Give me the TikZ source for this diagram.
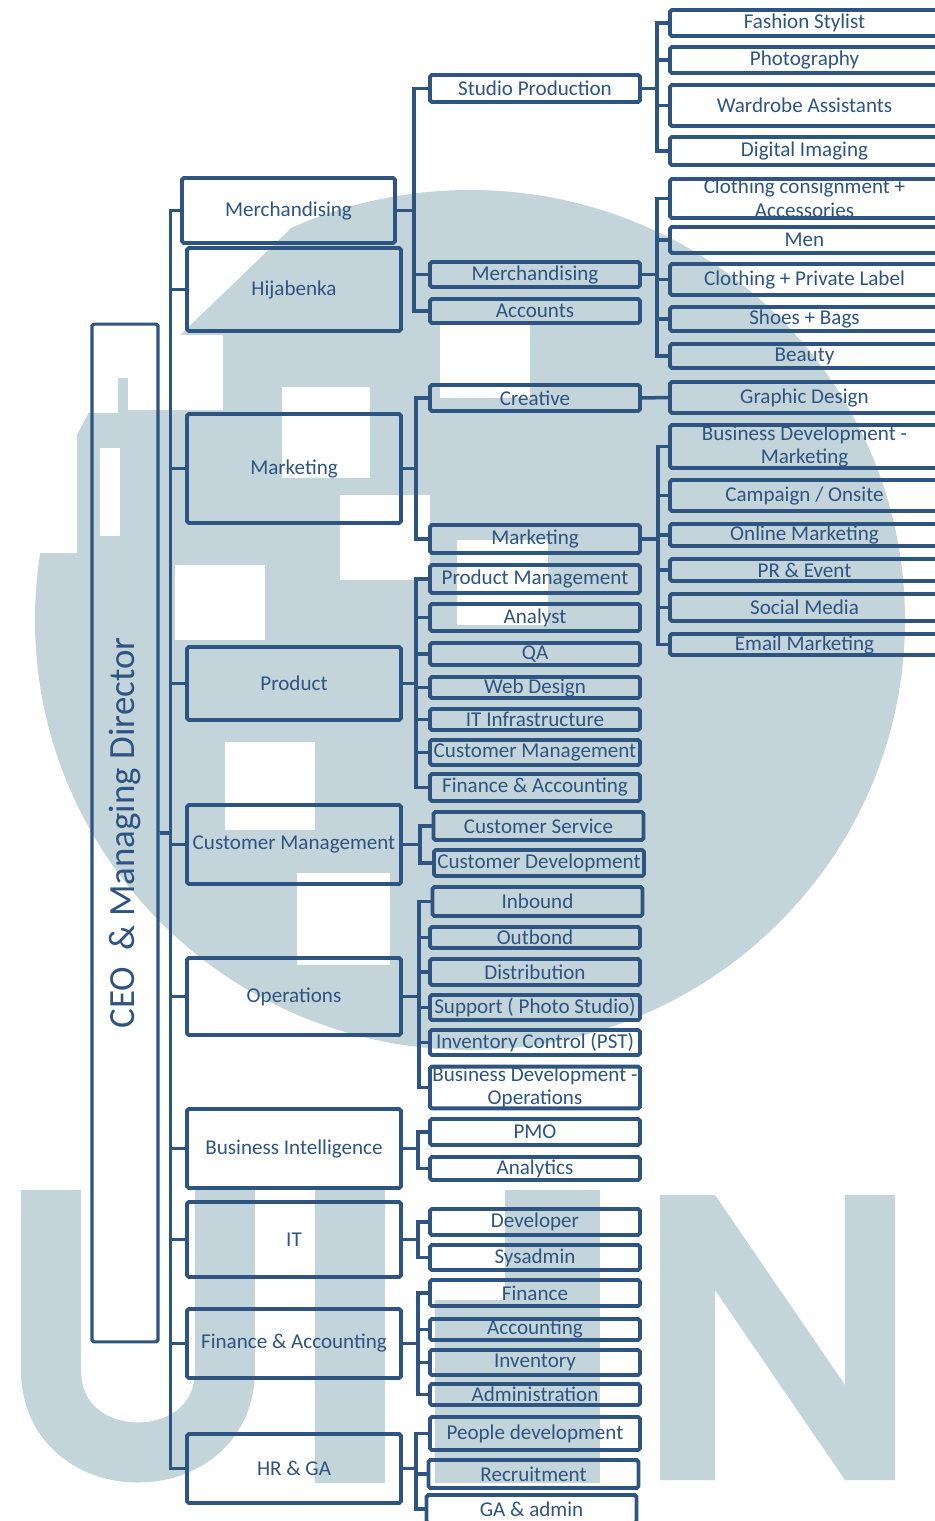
\documentclass[tikz,border=0pt]{standalone}
\usepackage{fontspec}
\setmainfont{Carlito}
\usepackage{xcolor}

\definecolor{orgblue}{RGB}{46,84,130}
\definecolor{logoblue}{RGB}{195,212,219}

\begin{document}
\begin{tikzpicture}[
    x=0.02cm, y=-0.02cm,
    every node/.style={font=\fontsize{12}{13.5}\selectfont, text=orgblue},
    unitbox/.style={rectangle, draw=orgblue, line width=2.2pt, rounded corners=1pt, inner sep=0pt, align=center},
    tall/.style={minimum height=#1*0.02cm},
    headbox/.style={unitbox, minimum width=4.28cm},
    subbox/.style={unitbox, minimum width=4.2cm},
    leafbox/.style={unitbox, minimum width=5.38cm},
    ceobox/.style={unitbox, line width=1.8pt, minimum width=1.32cm, minimum height=20.36cm, font=\fontsize{21}{24}\selectfont},
    link/.style={draw=orgblue, line width=2pt},
    watermark/.style={fill=logoblue}
]
    \useasboundingbox (0,0) rectangle (935,1521);
    \clip (0,0) rectangle (935,1521);

    % Watermark behind the chart
    \fill[watermark] (470,620) ellipse [x radius=435, y radius=430];
    \fill[white] (30,200) -- (290,200) -- (290,229) -- (180,335) -- (223,335) -- (223,410) -- (128,410) -- (128,378)
        -- (118,378) -- (118,413) -- (77,413) -- (77,553) -- (30,553) -- cycle;
    \fill[white] (100,448) rectangle (120,536);
    \fill[white] (440,322) rectangle (530,398);
    \fill[white] (282,387) rectangle (370,478);
    \fill[white] (340,495) rectangle (430,580);
    \fill[white] (175,565) rectangle (265,640);
    \fill[white] (457,540) rectangle (548,625);
    \fill[white] (225,742) rectangle (315,830);
    \fill[white] (297,873) rectangle (390,965);
    \draw[logoblue, line width=1.2cm] (51,1190) -- (51,1370) .. controls (51,1480) and (225,1480) .. (225,1370) -- (225,1190);
    \fill[watermark] (315,1190) rectangle (385,1483);
    \fill[watermark] (505,1190) rectangle (600,1483);
    \fill[watermark] (435,1300) rectangle (505,1483);
    \fill[watermark] (660,1195) -- (715,1195) -- (845,1385) -- (845,1195) -- (895,1195) -- (895,1480)
        -- (845,1480) -- (715,1290) -- (715,1480) -- (660,1480) -- cycle;

    % Top of the chart
    \node[ceobox] (ceo) at (125,833) {\rotatebox{90}{CEO\ \ \& Managing Director}};

    % Divisions
    \node[headbox, minimum width=4.26cm, tall=65] (merchA) at (288.5,210.5) {Merchandising};
    \node[headbox, tall=83] (hijab) at (294,289.5) {Hijabenka};
    \node[headbox, tall=109] (mkt) at (294,468.5) {Marketing};
    \node[headbox, tall=73] (prod) at (294,683.5) {Product};
    \node[headbox, tall=79] (cust) at (294,844.5) {Customer Management};
    \node[headbox, tall=77] (ops) at (294,996.5) {Operations};
    \node[headbox, tall=79] (bi) at (294,1148.5) {Business Intelligence};
    \node[headbox, tall=75] (it) at (294,1239.5) {IT};
    \node[headbox, tall=69] (fin) at (294,1343.5) {Finance \& Accounting};
    \node[headbox, tall=69] (hr) at (294,1468.5) {HR \& GA};

    % Departments
    \node[subbox, tall=27] (studio) at (535,88.5) {Studio Production};
    \node[subbox, tall=25] (merchB) at (535,274.5) {Merchandising};
    \node[subbox, tall=24] (accts) at (535,311) {Accounts};
    \node[subbox, tall=26] (creative) at (535,398) {Creative};
    \node[subbox, tall=28] (mktB) at (535,539) {Marketing};
    \node[subbox, tall=28] (pm) at (535,579) {Product Management};
    \node[subbox, tall=27] (analyst) at (535,617.5) {Analyst};
    \node[subbox, tall=22] (qa) at (535,654) {QA};
    \node[subbox, tall=21] (webd) at (535,687.5) {Web Design};
    \node[subbox, tall=21] (itinf) at (535,719.5) {IT Infrastructure};
    \node[subbox, tall=25] (custB) at (535,752.5) {Customer Management};
    \node[subbox, tall=27] (finB) at (535,787.5) {Finance \& Accounting};
    \node[subbox, tall=28] (csvc) at (538.5,826) {Customer Service};
    \node[subbox, tall=26] (cdev) at (539,863) {Customer Development};
    \node[subbox, tall=29] (inb) at (537.5,901.5) {Inbound};
    \node[subbox, tall=21] (outb) at (535,937.5) {Outbond};
    \node[subbox, tall=26] (distr) at (535,972) {Distribution};
    \node[subbox, tall=25] (supp) at (535,1007.5) {Support ( Photo Studio)};
    \node[subbox, tall=25] (inv) at (535,1042.5) {Inventory Control (PST)};
    \node[subbox, tall=41] (bdo) at (535,1087.5) {Business Development -\\Operations};
    \node[subbox, tall=26] (pmo) at (535,1132) {PMO};
    \node[subbox, tall=23] (anl) at (535,1168.5) {Analytics};
    \node[subbox, tall=26] (dev) at (535,1222) {Developer};
    \node[subbox, tall=25] (sys) at (535,1257.5) {Sysadmin};
    \node[subbox, tall=26] (finC) at (535,1293) {Finance};
    \node[subbox, tall=21] (acc) at (535,1329.5) {Accounting};
    \node[subbox, tall=25] (invt) at (535,1362.5) {Inventory};
    \node[subbox, tall=21] (adm) at (535,1394.5) {Administration};
    \node[subbox, tall=33] (ppl) at (535,1433.5) {People development};
    \node[subbox, tall=28] (recr) at (533.5,1474) {Recruitment};
    \node[subbox, tall=28] (gaad) at (531.5,1509) {GA \& admin};

    % Teams
    \node[leafbox, tall=26] (fash) at (804.5,23) {Fashion Stylist};
    \node[leafbox, tall=26] (photo) at (804.5,60) {Photography};
    \node[leafbox, tall=41] (wardr) at (804.5,105.5) {Wardrobe Assistants};
    \node[leafbox, tall=28] (digi) at (804.5,151) {Digital Imaging};
    \node[leafbox, tall=39] (cloc) at (804.5,198.5) {Clothing consignment +\\Accessories};
    \node[leafbox, tall=26] (men) at (804.5,240) {Men};
    \node[leafbox, tall=31] (clpl) at (804.5,279.5) {Clothing + Private Label};
    \node[leafbox, tall=24] (shoes) at (804.5,319) {Shoes + Bags};
    \node[leafbox, tall=24] (beauty) at (804.5,356) {Beauty};
    \node[leafbox, tall=31] (gd) at (804.5,397.5) {Graphic Design};
    \node[leafbox, tall=43] (bdm) at (804.5,446.5) {Business Development -\\Marketing};
    \node[leafbox, tall=31] (camp) at (804.5,495.5) {Campaign / Onsite};
    \node[leafbox, tall=22] (onl) at (804.5,535) {Online Marketing};
    \node[leafbox, tall=22] (pr) at (804.5,570) {PR \& Event};
    \node[leafbox, tall=27] (soc) at (804.5,607.5) {Social Media};
    \node[leafbox, tall=21] (email) at (804.5,644.5) {Email Marketing};

    % CEO to divisions
    \draw[link] (ceo.east) -- ++(11,0) |- (merchA.west);
    \draw[link] (ceo.east) -- ++(11,0) |- (hijab.west);
    \draw[link] (ceo.east) -- ++(11,0) |- (mkt.west);
    \draw[link] (ceo.east) -- ++(11,0) |- (prod.west);
    \draw[link] (ceo.east) -- ++(11,0) |- (cust.west);
    \draw[link] (ceo.east) -- ++(11,0) |- (ops.west);
    \draw[link] (ceo.east) -- ++(11,0) |- (bi.west);
    \draw[link] (ceo.east) -- ++(11,0) |- (it.west);
    \draw[link] (ceo.east) -- ++(11,0) |- (fin.west);
    \draw[link] (ceo.east) -- ++(11,0) |- (hr.west);

    % Divisions to departments
    \draw[link] (merchA.east) -- ++(17,0) |- (studio.west);
    \draw[link] (merchA.east) -- ++(17,0) |- (merchB.west);
    \draw[link] (merchA.east) -- ++(17,0) |- (accts.west);
    \draw[link] (mkt.east) -- ++(13,0) |- (creative.west);
    \draw[link] (mkt.east) -- ++(13,0) |- (mktB.west);
    \draw[link] (prod.east) -- ++(13,0) |- (pm.west);
    \draw[link] (prod.east) -- ++(13,0) |- (analyst.west);
    \draw[link] (prod.east) -- ++(13,0) |- (qa.west);
    \draw[link] (prod.east) -- ++(13,0) |- (webd.west);
    \draw[link] (prod.east) -- ++(13,0) |- (itinf.west);
    \draw[link] (prod.east) -- ++(13,0) |- (custB.west);
    \draw[link] (prod.east) -- ++(13,0) |- (finB.west);
    \draw[link] (cust.east) -- ++(17,0) |- (csvc.west);
    \draw[link] (cust.east) -- ++(17,0) |- (cdev.west);
    \draw[link] (ops.east) -- ++(16,0) |- (inb.west);
    \draw[link] (ops.east) -- ++(16,0) |- (outb.west);
    \draw[link] (ops.east) -- ++(16,0) |- (distr.west);
    \draw[link] (ops.east) -- ++(16,0) |- (supp.west);
    \draw[link] (ops.east) -- ++(16,0) |- (inv.west);
    \draw[link] (ops.east) -- ++(16,0) |- (bdo.west);
    \draw[link] (bi.east) -- ++(15,0) |- (pmo.west);
    \draw[link] (bi.east) -- ++(15,0) |- (anl.west);
    \draw[link] (it.east) -- ++(15,0) |- (dev.west);
    \draw[link] (it.east) -- ++(15,0) |- (sys.west);
    \draw[link] (fin.east) -- ++(15,0) |- (finC.west);
    \draw[link] (fin.east) -- ++(15,0) |- (acc.west);
    \draw[link] (fin.east) -- ++(15,0) |- (invt.west);
    \draw[link] (fin.east) -- ++(15,0) |- (adm.west);
    \draw[link] (hr.east) -- ++(13,0) |- (ppl.west);
    \draw[link] (hr.east) -- ++(13,0) |- (recr.west);
    \draw[link] (hr.east) -- ++(13,0) |- (gaad.west);

    % Departments to teams
    \draw[link] (studio.east) -- ++(15,0) |- (fash.west);
    \draw[link] (studio.east) -- ++(15,0) |- (photo.west);
    \draw[link] (studio.east) -- ++(15,0) |- (wardr.west);
    \draw[link] (studio.east) -- ++(15,0) |- (digi.west);
    \draw[link] (merchB.east) -- ++(15,0) |- (cloc.west);
    \draw[link] (merchB.east) -- ++(15,0) |- (men.west);
    \draw[link] (merchB.east) -- ++(15,0) |- (clpl.west);
    \draw[link] (merchB.east) -- ++(15,0) |- (shoes.west);
    \draw[link] (merchB.east) -- ++(15,0) |- (beauty.west);
    \draw[link] (creative.east) -- (gd.west);
    \draw[link] (mktB.east) -- ++(16,0) |- (bdm.west);
    \draw[link] (mktB.east) -- ++(16,0) |- (camp.west);
    \draw[link] (mktB.east) -- ++(16,0) |- (onl.west);
    \draw[link] (mktB.east) -- ++(16,0) |- (pr.west);
    \draw[link] (mktB.east) -- ++(16,0) |- (soc.west);
    \draw[link] (mktB.east) -- ++(16,0) |- (email.west);
\end{tikzpicture}
\end{document}
